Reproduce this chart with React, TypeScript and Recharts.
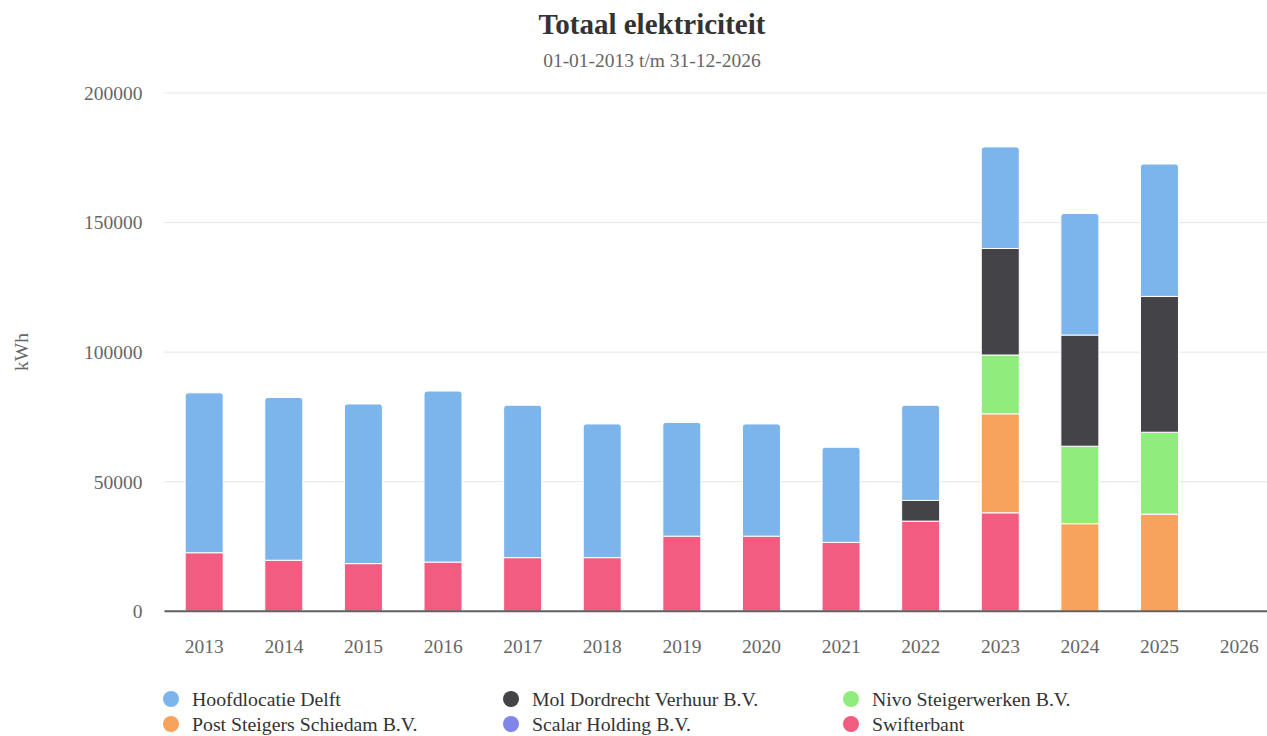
import React from 'react';
import { BarChart, Bar, XAxis, YAxis, CartesianGrid } from 'recharts';

const years = ['2013', '2014', '2015', '2016', '2017', '2018', '2019', '2020', '2021', '2022', '2023', '2024', '2025', '2026'];
const hoofdlocatieDelft = [61700, 62800, 61600, 66000, 58800, 51600, 43900, 43300, 36700, 36700, 39200, 46900, 51100, 0];
const molDordrecht = [0, 0, 0, 0, 0, 0, 0, 0, 0, 8000, 41100, 42900, 52400, 0];
const nivoSteigerwerken = [0, 0, 0, 0, 0, 0, 0, 0, 0, 0, 22700, 29900, 31600, 0];
const postSteigers = [0, 0, 0, 0, 0, 0, 0, 0, 0, 0, 38200, 33800, 37500, 0];
const scalarHolding = [0, 0, 0, 0, 0, 0, 0, 0, 0, 0, 0, 0, 0, 0];
const swifterbant = [22600, 19700, 18400, 19000, 20700, 20700, 29000, 29000, 26600, 34800, 38000, 0, 0, 0];
const yTicks = [0, 50000, 100000, 150000, 200000];

const series = [
  { key: 'hoofd', name: 'Hoofdlocatie Delft', color: '#7cb5ec', values: hoofdlocatieDelft },
  { key: 'mol', name: 'Mol Dordrecht Verhuur B.V.', color: '#434348', values: molDordrecht },
  { key: 'nivo', name: 'Nivo Steigerwerken B.V.', color: '#90ed7d', values: nivoSteigerwerken },
  { key: 'post', name: 'Post Steigers Schiedam B.V.', color: '#f7a35c', values: postSteigers },
  { key: 'scalar', name: 'Scalar Holding B.V.', color: '#8085e9', values: scalarHolding },
  { key: 'swift', name: 'Swifterbant', color: '#f15c80', values: swifterbant },
];

const data = years.map((y, i) => {
  const row: Record<string, any> = { year: y };
  series.forEach((s) => {
    row[s.key] = s.values[i];
  });
  return row;
});

const FONT = '"Liberation Serif", "Times New Roman", serif';

export default function App() {
  const stackOrder = [...series].reverse();
  return (
    <div
      style={{
        position: 'fixed',
        left: 0,
        top: 0,
        width: 1267,
        height: 736,
        overflow: 'hidden',
        background: '#fff',
        fontFamily: FONT,
      }}
    >
      <div
        style={{
          position: 'absolute',
          left: 0,
          top: 6,
          width: 1304,
          textAlign: 'center',
          fontSize: 29,
          fontWeight: 'bold',
          color: '#333333',
          lineHeight: '36px',
        }}
      >
        Totaal elektriciteit
      </div>
      <div
        style={{
          position: 'absolute',
          left: 0,
          top: 49,
          width: 1304,
          textAlign: 'center',
          fontSize: 19.5,
          color: '#666666',
          lineHeight: '24px',
        }}
      >
        01-01-2013 t/m 31-12-2026
      </div>
      <div
        style={{
          position: 'absolute',
          left: 22,
          top: 352,
          transform: 'translate(-50%, -50%) rotate(-90deg)',
          fontSize: 19.5,
          color: '#666666',
          whiteSpace: 'nowrap',
        }}
      >
        kWh
      </div>
      <div style={{ position: 'absolute', left: 0, top: 0 }}>
        <BarChart
          width={1290}
          height={736}
          data={data}
          margin={{ top: 93, right: 11, bottom: 84.7, left: 0 }}
          barCategoryGap="26%"
        >
          <CartesianGrid vertical={false} stroke="#e6e6e6" strokeWidth={1} />
          <XAxis
            dataKey="year"
            type="category"
            height={40}
            tickLine={false}
            tickSize={0}
            tickMargin={28}
            axisLine={{ stroke: '#606060', strokeWidth: 2 }}
            tick={{ fill: '#666666', fontSize: 19.5, fontFamily: FONT }}
            interval={0}
          />
          <YAxis
            width={164.5}
            domain={[0, 200000]}
            ticks={yTicks}
            tickLine={false}
            tickSize={0}
            tickMargin={22}
            axisLine={false}
            tick={{ fill: '#666666', fontSize: 19.5, fontFamily: FONT }}
            interval={0}
          />
          {stackOrder.map((s) => (
            <Bar
              key={s.key}
              dataKey={s.key}
              name={s.name}
              stackId="a"
              fill={s.color}
              stroke="#ffffff"
              strokeWidth={1}
              radius={s.key === 'hoofd' ? [3, 3, 0, 0] : 0}
              isAnimationActive={false}
            />
          ))}
        </BarChart>
      </div>
      {series.map((s, i) => {
        const col = i % 3;
        const row = Math.floor(i / 3);
        const cx = [171, 511, 851][col];
        const cy = [699, 724][row];
        return (
          <div
            key={s.key}
            style={{
              position: 'absolute',
              left: cx - 8,
              top: cy - 12,
              height: 24,
              display: 'flex',
              alignItems: 'center',
              whiteSpace: 'nowrap',
              fontFamily: FONT,
            }}
          >
            <span
              style={{
                display: 'inline-block',
                width: 16,
                height: 16,
                borderRadius: '50%',
                background: s.color,
                marginRight: 13,
              }}
            />
            <span style={{ fontSize: 19.8, color: '#333333', fontFamily: FONT }}>{s.name}</span>
          </div>
        );
      })}
    </div>
  );
}
